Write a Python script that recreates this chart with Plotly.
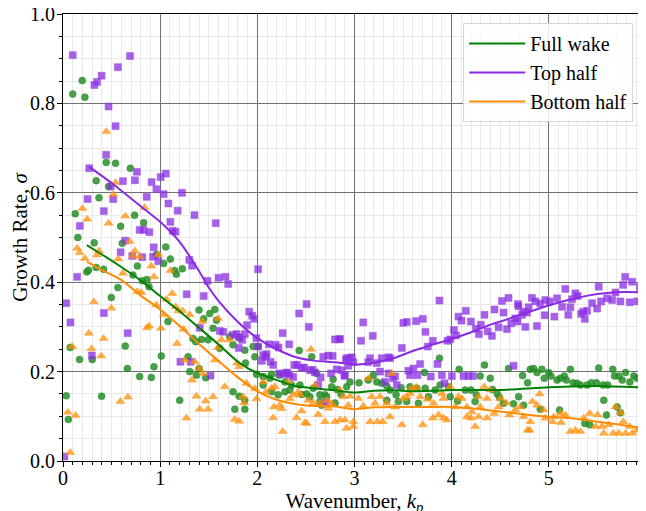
import plotly.graph_objects as go

# ---------------- data ----------------
full_x = [0.033,0.055,0.074,0.10,0.126,0.153,0.17,0.198,0.225,0.245,0.263,0.301,0.321,0.342,0.342,0.37,0.397,0.418,
          0.445,0.469,0.497,0.541,0.565,0.593,0.61,0.641,0.662,0.693,0.72,0.737,0.765,0.789,0.816,0.83,0.864,0.885,
          0.909,0.936,0.961,1.012,1.036,1.057,1.08,1.105,1.149,1.167,1.201,1.229,1.287,1.304,1.338,1.366,1.373,1.40,
          1.40,1.425,1.448,1.469,1.493,1.51,1.544,1.562,1.579,1.613,1.716,1.75,1.75,1.768,1.813,1.82,1.871,1.871,1.871,
          1.878,1.957,1.974,1.992,2.008,2.06,2.06,2.129,2.146,2.146,2.214,2.225,2.284,2.284,2.335,2.353,2.431,2.438,
          2.456,2.508,2.541,2.559,2.575,2.61,2.644,2.644,2.662,2.696,2.713,2.765,2.78,2.80,2.82,2.86,2.92,2.954,3.046,
          3.142,3.194,3.229,3.28,3.332,3.332,3.366,3.428,3.452,3.48,3.538,3.572,3.641,3.658,3.72,3.727,3.761,3.83,3.874,
          3.881,3.967,3.985,4.06,4.077,4.139,4.198,4.242,4.253,4.294,4.338,4.397,4.42,4.47,4.493,4.534,4.585,4.637,
          4.689,4.73,4.74,4.781,4.809,4.843,4.878,4.912,4.929,4.953,4.998,5.022,5.085,5.11,5.119,5.16,5.18,5.222,5.25,
          5.29,5.325,5.37,5.394,5.42,5.438,5.49,5.513,5.559,5.565,5.593,5.606,5.658,5.676,5.703,5.72,5.737,5.755,5.789,
          5.834,5.875,5.909,5.961,5.995]
full_y = [0.146,0.093,0.254,0.821,0.553,0.500,0.227,0.851,0.814,0.423,0.427,0.227,0.488,0.627,0.433,0.589,0.145,0.429,
          0.668,0.614,0.366,0.666,0.388,0.525,0.487,0.257,0.207,0.655,0.416,0.550,0.436,0.189,0.403,0.533,0.406,0.390,
          0.187,0.211,0.462,0.235,0.442,0.479,0.312,0.452,0.426,0.418,0.136,0.430,0.233,0.200,0.274,0.267,0.192,0.338,
          0.207,0.272,0.318,0.186,0.271,0.330,0.297,0.339,0.315,0.252,0.278,0.260,0.155,0.116,0.145,0.275,0.248,0.116,0.136,
          0.219,0.256,0.233,0.194,0.256,0.189,0.170,0.185,0.194,0.155,0.148,0.192,0.177,0.155,0.159,0.170,0.247,0.170,
          0.149,0.150,0.144,0.233,0.163,0.196,0.148,0.133,0.125,0.148,0.144,0.166,0.183,0.130,0.160,0.150,0.166,0.177,0.175,
          0.181,0.192,0.177,0.174,0.168,0.136,0.159,0.148,0.133,0.164,0.133,0.166,0.163,0.129,0.198,0.163,0.144,0.159,0.230,
          0.170,0.166,0.144,0.134,0.205,0.159,0.159,0.133,0.148,0.190,0.215,0.185,0.160,0.150,0.142,0.129,0.207,0.128,
          0.144,0.191,0.125,0.175,0.205,0.207,0.198,0.116,0.205,0.185,0.198,0.190,0.181,0.114,0.185,0.190,0.181,0.205,0.175,
          0.174,0.170,0.084,0.170,0.081,0.175,0.175,0.208,0.170,0.136,0.103,0.170,0.205,0.190,0.121,0.190,0.108,0.181,0.198,
          0.177,0.190,0.185,0.188,0.181]

top_x = [0.015,0.033,0.077,0.10,0.146,0.173,0.253,0.27,0.297,0.323,0.35,0.397,0.42,0.42,0.445,0.469,0.49,0.517,0.541,
         0.565,0.593,0.617,0.641,0.665,0.69,0.713,0.74,0.76,0.789,0.816,0.83,0.861,0.889,0.912,0.926,0.933,0.961,0.981,
         1.005,1.036,1.057,1.085,1.105,1.129,1.157,1.18,1.208,1.225,1.273,1.30,1.314,1.328,1.353,1.407,1.448,1.487,
         1.518,1.572,1.60,1.613,1.65,1.672,1.70,1.745,1.786,1.81,1.81,1.845,1.871,1.894,1.916,1.947,1.968,1.99,2.008,
         2.008,2.046,2.06,2.084,2.095,2.119,2.136,2.163,2.188,2.218,2.225,2.26,2.266,2.294,2.307,2.328,2.33,2.369,2.38,
         2.41,2.43,2.456,2.483,2.507,2.53,2.541,2.569,2.593,2.627,2.651,2.678,2.706,2.73,2.758,2.775,2.799,2.816,2.84,
         2.851,2.868,2.895,2.902,2.912,2.919,2.936,2.946,2.971,2.988,3.067,3.09,3.142,3.16,3.188,3.229,3.263,3.28,3.314,
         3.349,3.35,3.366,3.394,3.418,3.435,3.487,3.503,3.538,3.555,3.572,3.606,3.634,3.647,3.675,3.703,3.73,3.755,3.785,
         3.806,3.854,3.874,3.899,3.926,3.957,3.985,4.002,4.023,4.046,4.07,4.101,4.122,4.146,4.173,4.198,4.219,4.25,4.28,
         4.30,4.338,4.37,4.414,4.441,4.483,4.517,4.534,4.569,4.585,4.613,4.637,4.655,4.679,4.682,4.688,4.724,4.74,4.758,
         4.775,4.792,4.826,4.861,4.878,4.912,4.957,4.964,5.009,5.057,5.085,5.136,5.17,5.201,5.222,5.239,5.273,5.297,
         5.332,5.353,5.37,5.394,5.446,5.497,5.513,5.538,5.600,5.652,5.686,5.737,5.765,5.786,5.833,5.858,5.909,5.936,
         5.961,5.995]
top_y = [0.010,0.353,0.310,0.908,0.412,0.526,0.586,0.655,0.236,0.841,0.848,0.862,0.559,0.331,0.685,0.793,0.614,0.586,
         0.749,0.881,0.467,0.626,0.493,0.286,0.906,0.459,0.628,0.647,0.517,0.456,0.517,0.591,0.512,0.624,0.457,0.478,
         0.608,0.447,0.635,0.597,0.643,0.576,0.535,0.515,0.513,0.560,0.222,0.600,0.373,0.450,0.222,0.437,0.550,0.298,
         0.369,0.403,0.191,0.532,0.410,0.291,0.289,0.412,0.396,0.282,0.284,0.277,0.253,0.271,0.284,0.304,0.334,0.325,
         0.318,0.275,0.429,0.256,0.224,0.237,0.233,0.239,0.261,0.222,0.215,0.260,0.254,0.196,0.286,0.194,0.197,0.198,
         0.261,0.193,0.188,0.215,0.215,0.330,0.209,0.209,0.351,0.300,0.203,0.204,0.198,0.170,0.187,0.233,0.130,0.236,
         0.196,0.235,0.272,0.205,0.272,0.273,0.203,0.191,0.191,0.226,0.230,0.213,0.230,0.232,0.221,0.269,0.310,0.221,
         0.230,0.280,0.219,0.200,0.230,0.177,0.232,0.196,0.230,0.185,0.189,0.170,0.253,0.309,0.311,0.202,0.192,0.207,
         0.313,0.192,0.217,0.318,0.289,0.256,0.189,0.269,0.217,0.359,0.192,0.174,0.269,0.272,0.190,0.293,0.281,0.323,
         0.314,0.190,0.336,0.190,0.312,0.190,0.296,0.284,0.305,0.327,0.290,0.280,0.339,0.299,0.358,0.332,0.295,0.365,
         0.308,0.213,0.319,0.312,0.351,0.346,0.327,0.334,0.300,0.332,0.344,0.365,0.357,0.302,0.352,0.326,0.360,0.357,
         0.323,0.364,0.345,0.385,0.327,0.344,0.362,0.375,0.369,0.329,0.334,0.318,0.336,0.353,0.341,0.390,0.357,0.364,
         0.360,0.377,0.357,0.394,0.412,0.355,0.401,0.357,0.389,0.398,0.411]

bot_x = [0.05,0.074,0.095,0.129,0.146,0.17,0.201,0.225,0.249,0.266,0.294,0.318,0.35,0.37,0.394,0.418,0.445,0.469,0.497,
         0.517,0.541,0.569,0.59,0.617,0.641,0.668,0.686,0.72,0.74,0.765,0.789,0.806,0.84,0.864,0.885,0.909,0.936,0.961,
         0.981,1.008,1.036,1.064,1.105,1.125,1.16,1.173,1.184,1.229,1.242,1.253,1.27,1.304,1.328,1.356,1.373,1.40,1.407,
         1.435,1.441,1.469,1.493,1.544,1.562,1.596,1.596,1.631,1.665,1.716,1.768,1.792,1.813,1.813,1.854,1.864,1.888,
         1.974,1.992,2.06,2.088,2.146,2.163,2.17,2.18,2.232,2.25,2.26,2.318,2.335,2.369,2.404,2.42,2.438,2.456,2.49,
         2.507,2.524,2.552,2.575,2.593,2.627,2.644,2.696,2.713,2.73,2.765,2.799,2.851,2.851,2.885,2.902,2.919,2.936,
         2.954,2.988,2.988,3.039,3.091,3.142,3.16,3.177,3.211,3.235,3.263,3.29,3.332,3.366,3.384,3.418,3.487,3.503,
         3.538,3.572,3.59,3.634,3.675,3.703,3.751,3.806,3.813,3.864,3.899,3.916,3.916,3.95,3.985,4.036,4.07,4.105,4.157,
         4.157,4.198,4.208,4.242,4.276,4.276,4.294,4.335,4.363,4.363,4.397,4.438,4.483,4.5,4.562,4.593,4.655,4.706,4.74,
         4.781,4.802,4.809,4.833,4.878,4.905,4.946,4.964,5.04,5.05,5.119,5.126,5.17,5.222,5.273,5.325,5.359,5.421,5.48,
         5.503,5.548,5.565,5.617,5.662,5.686,5.72,5.737,5.765,5.789,5.834,5.858,5.909,5.943,5.978,6.0]
bot_y = [0.109,0.019,0.256,0.102,0.476,0.466,0.565,0.453,0.541,0.286,0.251,0.356,0.461,0.470,0.235,0.274,0.737,0.532,0.342,
         0.596,0.623,0.452,0.133,0.420,0.548,0.143,0.491,0.459,0.470,0.379,0.457,0.377,0.567,0.298,0.302,0.436,0.412,0.349,
         0.462,0.297,0.327,0.362,0.426,0.375,0.345,0.263,0.336,0.336,0.295,0.226,0.096,0.327,0.181,0.222,0.145,0.207,0.116,
         0.312,0.196,0.134,0.116,0.144,0.226,0.254,0.319,0.271,0.166,0.271,0.093,0.219,0.211,0.089,0.144,0.130,0.174,
         0.162,0.139,0.177,0.154,0.163,0.097,0.121,0.166,0.125,0.117,0.066,0.177,0.139,0.148,0.097,0.154,0.148,0.112,0.086,
         0.084,0.136,0.250,0.130,0.170,0.104,0.129,0.088,0.136,0.118,0.129,0.088,0.159,0.092,0.144,0.092,0.073,0.125,
         0.145,0.088,0.077,0.140,0.123,0.185,0.088,0.144,0.129,0.088,0.144,0.088,0.129,0.099,0.196,0.121,0.081,0.140,
         0.144,0.151,0.163,0.165,0.144,0.081,0.138,0.096,0.129,0.103,0.151,0.140,0.096,0.092,0.166,0.121,0.144,0.140,0.121,
         0.099,0.096,0.110,0.077,0.144,0.099,0.121,0.166,0.140,0.096,0.159,0.106,0.121,0.140,0.130,0.103,0.114,0.121,0.099,
         0.069,0.069,0.088,0.133,0.125,0.150,0.114,0.096,0.088,0.099,0.106,0.086,0.103,0.066,0.069,0.066,0.096,0.106,0.077,
         0.103,0.077,0.062,0.081,0.062,0.121,0.062,0.108,0.088,0.062,0.077,0.062,0.069,0.077,0.066,0.055]

# smoothed fits
top_fit_x = [0.27,0.5,0.8,1.0,1.2,1.4,1.5,1.6,1.8,2.0,2.2,2.4,2.6,2.8,3.0,3.2,3.4,3.6,3.8,4.0,4.2,4.4,4.6,4.8,5.0,5.2,5.4,5.6,5.8,6.0]
top_fit_y = [0.658,0.622,0.570,0.535,0.490,0.425,0.388,0.358,0.311,0.275,0.250,0.232,0.224,0.221,0.216,0.220,0.230,0.246,0.260,0.273,0.288,0.305,0.319,0.334,0.348,0.360,0.370,0.376,0.378,0.377]
full_fit_x = [0.245,0.4,0.6,0.8,1.0,1.2,1.4,1.6,1.8,1.9,2.0,2.2,2.4,2.6,2.8,3.0,3.2,3.4,3.6,3.8,4.0,4.5,5.0,5.5,6.0]
full_fit_y = [0.483,0.462,0.434,0.404,0.369,0.335,0.298,0.261,0.222,0.208,0.197,0.181,0.167,0.162,0.158,0.153,0.157,0.158,0.156,0.157,0.159,0.159,0.165,0.168,0.164]
bot_fit_x = [0.245,0.4,0.6,0.8,1.0,1.2,1.4,1.6,1.8,2.0,2.2,2.4,2.6,2.8,3.0,3.2,3.4,3.6,3.8,4.0,4.2,4.4,4.6,4.8,5.0,5.2,5.4,5.6,5.8,6.0]
bot_fit_y = [0.446,0.427,0.405,0.370,0.339,0.302,0.262,0.224,0.187,0.156,0.137,0.127,0.123,0.122,0.116,0.120,0.121,0.121,0.121,0.121,0.118,0.113,0.108,0.103,0.099,0.096,0.091,0.085,0.079,0.073]

names = ["Full wake", "Top half", "Bottom half"]

FONT = "Liberation Serif"
fig = go.Figure()

fig.add_trace(go.Scatter(x=full_x, y=full_y, mode="markers", showlegend=False,
                         marker=dict(symbol="circle", size=7, color="rgba(34,139,34,0.82)",
                                     line=dict(width=0.8, color="rgba(34,139,34,0.55)"))))
fig.add_trace(go.Scatter(x=top_x, y=top_y, mode="markers", showlegend=False,
                         marker=dict(symbol="square", size=7, color="rgba(138,43,226,0.75)",
                                     line=dict(width=1, color="rgba(150,80,230,0.45)"))))
fig.add_trace(go.Scatter(x=bot_x, y=bot_y, mode="markers", showlegend=False,
                         marker=dict(symbol="triangle-up", size=8, color="rgba(255,140,0,0.72)",
                                     line=dict(width=0.8, color="rgba(255,150,30,0.5)"))))

fig.add_trace(go.Scatter(x=full_fit_x, y=full_fit_y, mode="lines", name=names[0],
                         line=dict(color="#008000", width=2, shape="spline", smoothing=0.6)))
fig.add_trace(go.Scatter(x=top_fit_x, y=top_fit_y, mode="lines", name=names[1],
                         line=dict(color="#8a2be2", width=2, shape="spline", smoothing=0.6)))
fig.add_trace(go.Scatter(x=bot_fit_x, y=bot_fit_y, mode="lines", name=names[2],
                         line=dict(color="#ff8c00", width=2, shape="spline", smoothing=0.6)))

axis_common = dict(
    showgrid=True, gridcolor="#717171", gridwidth=1,
    showline=True, linecolor="black", linewidth=1,
    ticks="outside", ticklen=5, tickcolor="black", tickwidth=1,
    tickfont=dict(family=FONT, size=20, color="black"),
    zeroline=False, automargin=False, ticklabeloverflow="allow",
)

# page body has an 8px margin, so the figure is offset by (8, 8) px
fig.update_layout(
    width=646, height=511,
    margin=dict(l=55, r=8, t=6, b=58),
    paper_bgcolor="white", plot_bgcolor="white",
    font=dict(family=FONT, color="black"),
    xaxis=dict(range=[0, 6], tick0=0, dtick=1, mirror=True, ticklabelstandoff=-6,
               minor=dict(dtick=0.1, showgrid=True, gridcolor="#e9e9e9", gridwidth=1,
                          ticks="outside", ticklen=3, tickcolor="black"),
               title=dict(text="Wavenumber, <i>k</i><sub><i>p</i></sub>",
                          font=dict(family=FONT, size=21, color="black"), standoff=2),
               **axis_common),
    yaxis=dict(range=[0, 1], tick0=0, dtick=0.2, tickformat=".1f", ticklabelstandoff=-2,
               minor=dict(dtick=0.05, showgrid=True, gridcolor="#e9e9e9", gridwidth=1,
                          ticks="outside", ticklen=3, tickcolor="black"),
               title=dict(text="Growth Rate, <i>σ</i>",
                          font=dict(family=FONT, size=21, color="black"), standoff=6),
               **axis_common),
    legend=dict(x=0.978, y=0.98, xanchor="right", yanchor="top", itemwidth=56,
                bgcolor="rgba(255,255,255,0.85)", bordercolor="#d5d5d5", borderwidth=1,
                font=dict(family=FONT, size=20, color="black")),
)

fig.write_html("out.html")
